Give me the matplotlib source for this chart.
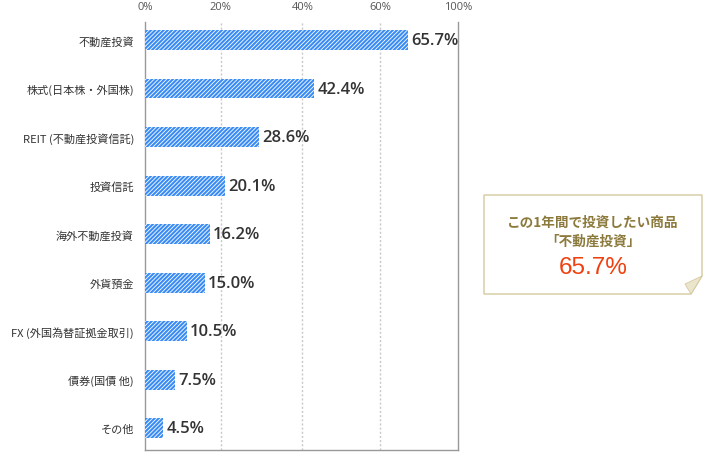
import matplotlib
matplotlib.use("Agg")
import matplotlib.pyplot as plt
from matplotlib.patches import Polygon

plt.rcParams['font.family'] = ['Noto Sans CJK JP', 'DejaVu Sans']
plt.rcParams['hatch.linewidth'] = 0.6

# data
categories = ["不動産投資", "株式(日本株・外国株)", "REIT (不動産投資信託)", "投資信託",
              "海外不動産投資", "外貨預金", "FX (外国為替証拠金取引)", "債券(国債 他)", "その他"]
values = [65.7, 42.4, 28.6, 20.1, 16.2, 15.0, 10.5, 7.5, 4.5]
# the top scale of the source is not linear, labels sit where it drew them
tick_pos = [0, 18.9, 39.4, 58.9, 78.3]
tick_labels = ["0%", "20%", "40%", "60%", "100%"]

W, H = 724, 460
fig = plt.figure(figsize=(W / 100, H / 100), dpi=100)
ax = fig.add_axes([145 / W, 1 - 451 / H, 313 / W, 428 / H])

y = list(range(len(categories)))
ax.barh(y, values, height=0.41, color="#3a8cf4", edgecolor="white",
        linewidth=0, hatch="////////", zorder=3)
for yi, v in zip(y, values):
    ax.text(v + 0.8, yi, f"{v:.1f}%", va="center", ha="left", fontsize=12,
            fontweight="semibold", color="#333333", family=["Open Sans", "DejaVu Sans"],
            zorder=4)

ax.set_xlim(0, tick_pos[-1])
ax.set_ylim(8.447, -0.371)
ax.set_yticks(y)
ax.set_yticklabels(categories, fontsize=8, color="#333333")
ax.tick_params(axis="y", length=0, pad=8)
ax.xaxis.tick_top()
ax.set_xticks(tick_pos)
ax.set_xticklabels(tick_labels, fontsize=8, color="#555555",
                   family=["Open Sans", "DejaVu Sans"])
ax.tick_params(axis="x", length=0, pad=7)
for xp in tick_pos[1:-1]:
    ax.axvline(xp, color="#c8c8c8", linestyle=(0, (1.5, 1.5)), linewidth=1, zorder=1)

ax.spines["top"].set_visible(False)
for s in ["left", "right", "bottom"]:
    ax.spines[s].set_color("#999999")
    ax.spines[s].set_linewidth(1)

# callout box with folded corner, in pixel coordinates
def px(x, yy):
    return (x / W, 1 - yy / H)

box = Polygon([px(484, 196), px(702, 196), px(702, 277), px(691, 295), px(484, 295)],
              closed=True, transform=fig.transFigure, facecolor="white",
              edgecolor="#d4c9a0", linewidth=1)
fig.patches.append(box)
fold = Polygon([px(702, 277), px(691, 295), px(685, 285)], closed=True,
               transform=fig.transFigure, facecolor="#ebe5cc", edgecolor="#d4c9a0",
               linewidth=0.6)
fig.patches.append(fold)

fig.text(593 / W, 1 - 223 / H, "この1年間で投資したい商品", ha="center", va="center",
         fontsize=9.8, fontweight="bold", color="#8c7a3c")
fig.text(593 / W, 1 - 242 / H, "「不動産投資」", ha="center", va="center",
         fontsize=9.8, fontweight="bold", color="#8c7a3c")
fig.text(593 / W, 1 - 268 / H, "65.7%", ha="center", va="center",
         fontsize=17.5, color="#f0400f", family=["Liberation Sans", "DejaVu Sans"])

fig.savefig("out.png", dpi=100)
